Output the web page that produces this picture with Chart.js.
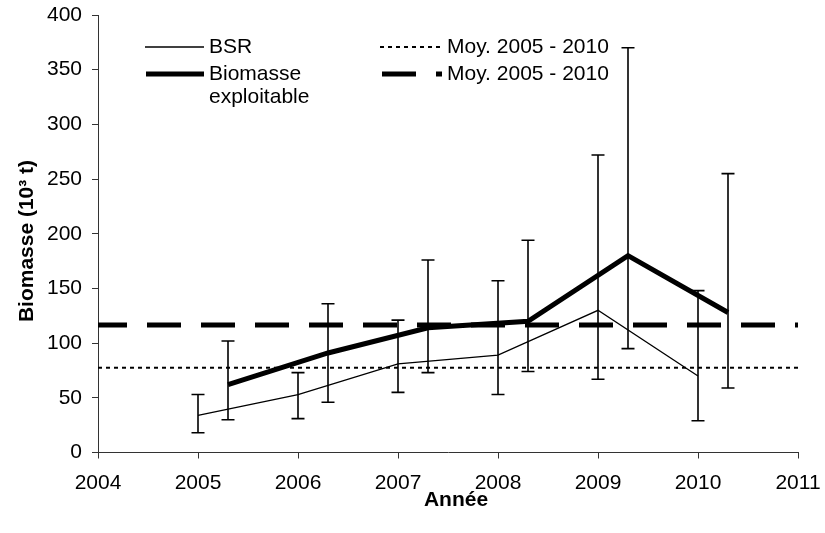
<!DOCTYPE html>
<html>
<head>
<meta charset="utf-8">
<script src="https://cdn.jsdelivr.net/npm/chart.js@4"></script>
<style>
  html, body { margin: 0; padding: 0; background: #fff; }
  #wrap { width: 825px; height: 533px; }
</style>
</head>
<body>
<div id="wrap"><canvas id="chartBiomasse" width="825" height="533"></canvas></div>
<script>
const years = [2005, 2006, 2007, 2008, 2009, 2010];
const explOffset = 0.3; // biomasse exploitable decalee pour lisibilite

const bsr = [34, 53, 81, 89, 130, 70];
const bsrLow = [18, 31, 55, 53, 67, 29];
const bsrHigh = [53, 73, 121, 157, 272, 148];

const expl = [62, 91, 114, 120, 180, 128];
const explLow = [30, 46, 73, 74, 95, 59];
const explHigh = [102, 136, 176, 194, 370, 255];

const moyBsr = 77.5;
const moyExpl = 116.5;

const xTicks = [2004, 2005, 2006, 2007, 2008, 2009, 2010, 2011];
const yTicks = [0, 50, 100, 150, 200, 250, 300, 350, 400];

const legendLabels = ['BSR', 'Biomasse\nexploitable', 'Moy. 2005 - 2010', 'Moy. 2005 - 2010'];
const xTitle = 'Année';
const yTitle = 'Biomasse (10³ t)';

const FONT = '"Liberation Sans", Arial, sans-serif';

const bsrPts = years.map((y, i) => ({ x: y, y: bsr[i] }));
const explPts = years.map((y, i) => ({ x: y + explOffset, y: expl[i] }));
const xMin = xTicks[0], xMax = xTicks[xTicks.length - 1];

// barres d'erreur min/max pour les deux series
const errorBars = {
  id: 'errorBars',
  afterDatasetsDraw(chart) {
    const { ctx, scales: { x, y } } = chart;
    const sets = [
      { xs: years.map(v => v), lo: bsrLow, hi: bsrHigh },
      { xs: years.map(v => v + explOffset), lo: explLow, hi: explHigh }
    ];
    ctx.save();
    ctx.strokeStyle = '#000';
    ctx.lineWidth = 1.6;
    sets.forEach(s => {
      s.xs.forEach((xv, i) => {
        const px = x.getPixelForValue(xv);
        const top = y.getPixelForValue(s.hi[i]);
        const bot = y.getPixelForValue(s.lo[i]);
        ctx.beginPath();
        ctx.moveTo(px, top); ctx.lineTo(px, bot);
        ctx.moveTo(px - 6.5, top); ctx.lineTo(px + 6.5, top);
        ctx.moveTo(px - 6.5, bot); ctx.lineTo(px + 6.5, bot);
        ctx.stroke();
      });
    });
    ctx.restore();
  }
};

// legende sur deux colonnes et titres des axes
const legendAndTitles = {
  id: 'legendAndTitles',
  afterDraw(chart) {
    const { ctx } = chart;
    ctx.save();
    ctx.fillStyle = '#000';
    ctx.strokeStyle = '#000';
    ctx.font = '21px ' + FONT;
    ctx.textBaseline = 'middle';
    ctx.textAlign = 'left';

    const items = [
      { x0: 145, x1: 204, y: 47, w: 1.3, dash: [], tx: 209 },
      { x0: 146, x1: 204, y: 74, w: 5, dash: [], tx: 209 },
      { x0: 380, x1: 442, y: 47, w: 2, dash: [4, 4], tx: 447 },
      { x0: 382, x1: 442, y: 74, w: 5, dash: [34, 20], tx: 447 }
    ];
    items.forEach((it, i) => {
      ctx.beginPath();
      ctx.lineWidth = it.w;
      ctx.setLineDash(it.dash);
      ctx.moveTo(it.x0, it.y); ctx.lineTo(it.x1, it.y);
      ctx.stroke();
      legendLabels[i].split('\n').forEach((line, k) => {
        ctx.fillText(line, it.tx, it.y + k * 23);
      });
    });
    ctx.setLineDash([]);

    ctx.font = 'bold 21px ' + FONT;
    ctx.textAlign = 'center';
    ctx.fillText(xTitle, 456, 500);
    ctx.translate(27, 241);
    ctx.rotate(-Math.PI / 2);
    ctx.fillText(yTitle, 0, 0);
    ctx.restore();
  }
};

const ctx = document.getElementById('chartBiomasse').getContext('2d');
const chart = new Chart(ctx, {
  type: 'line',
  data: {
    datasets: [
      { label: 'BSR', data: bsrPts, borderColor: '#000', borderWidth: 1.3, pointRadius: 0, tension: 0 },
      { label: 'Biomasse exploitable', data: explPts, borderColor: '#000', borderWidth: 5, pointRadius: 0, tension: 0, borderJoinStyle: 'miter' },
      { label: 'Moy. BSR', data: [{ x: xMin, y: moyBsr }, { x: xMax, y: moyBsr }], borderColor: '#000', borderWidth: 2, borderDash: [4, 4], pointRadius: 0 },
      { label: 'Moy. exploitable', data: [{ x: xMin, y: moyExpl }, { x: xMax, y: moyExpl }], borderColor: '#000', borderWidth: 5, borderDash: [34, 20], borderDashOffset: 5, pointRadius: 0 }
    ]
  },
  options: {
    responsive: false,
    animation: false,
    layout: { padding: { top: 15, right: 27, left: 0, bottom: 0 } },
    plugins: { legend: { display: false }, tooltip: { enabled: false } },
    scales: {
      x: {
        type: 'linear',
        min: xMin, max: xMax,
        afterBuildTicks: (s) => { s.ticks = xTicks.map(v => ({ value: v })); },
        afterFit: (s) => { s.height = 80.5; s.paddingLeft = 0; s.paddingRight = 0; },
        ticks: { color: '#000', font: { family: FONT, size: 21 }, padding: 12, maxRotation: 0, callback: v => String(v) },
        grid: { drawOnChartArea: false, drawTicks: true, tickLength: 6, color: '#333' },
        border: { color: '#333', width: 1 }
      },
      y: {
        min: 0, max: 400,
        afterBuildTicks: (s) => { s.ticks = yTicks.map(v => ({ value: v })); },
        afterFit: (s) => { s.width = 98; s.paddingTop = 0; s.paddingBottom = 0; },
        ticks: { color: '#000', font: { family: FONT, size: 21 }, padding: 10 },
        grid: { drawOnChartArea: false, drawTicks: true, tickLength: 6, color: '#333' },
        border: { color: '#333', width: 1 }
      }
    }
  },
  plugins: [errorBars, legendAndTitles]
});
</script>
</body>
</html>
